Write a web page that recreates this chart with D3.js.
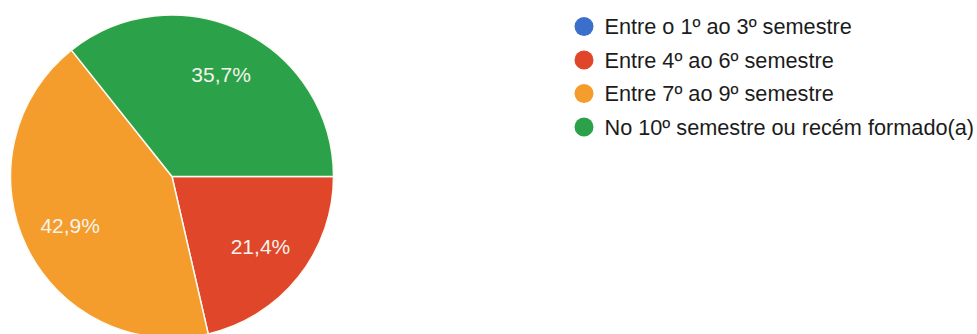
<!DOCTYPE html>
<html>
<head>
<meta charset="utf-8">
<script src="https://cdn.jsdelivr.net/npm/d3@7"></script>
<style>
  html, body { margin: 0; padding: 0; background: #ffffff; }
  svg { display: block; }
  text { font-family: "Liberation Sans", Arial, sans-serif; }
</style>
</head>
<body>
<svg id="chart" width="977" height="334"></svg>
<script>
// Semester groups and their share of responses (%)
const categories = [
  "Entre o 1º ao 3º semestre",
  "Entre 4º ao 6º semestre",
  "Entre 7º ao 9º semestre",
  "No 10º semestre ou recém formado(a)"
];
const values = [0, 21.4, 42.9, 35.7];
const sliceLabels = ["0%", "21,4%", "42,9%", "35,7%"];
const colors = ["#3a6fcc", "#e0462a", "#f49c2c", "#2ba24a"];

const svg = d3.select("#chart");
const cx = 172, cy = 176.5, R = 161.5;

const data = categories.map((c, i) => ({ name: c, value: values[i], label: sliceLabels[i], color: colors[i] }));

// Pie starts at 3 o'clock and runs clockwise
const pie = d3.pie().value(d => d.value).sort(null)
  .startAngle(Math.PI / 2).endAngle(Math.PI / 2 + 2 * Math.PI);
const arcs = pie(data);
const arc = d3.arc().innerRadius(0).outerRadius(R);
const labelArc = d3.arc().innerRadius(R * 0.7).outerRadius(R * 0.7);

const g = svg.append("g").attr("transform", `translate(${cx},${cy})`);

g.selectAll("path.slice")
  .data(arcs.filter(a => a.data.value > 0))
  .join("path")
  .attr("class", "slice")
  .attr("d", arc)
  .attr("fill", d => d.data.color)
  .attr("stroke", "#fbfaf3")
  .attr("stroke-width", 1.5);

g.selectAll("text.pct")
  .data(arcs.filter(a => a.data.value > 0))
  .join("text")
  .attr("class", "pct")
  .attr("transform", d => `translate(${labelArc.centroid(d)})`)
  .attr("text-anchor", "middle")
  .attr("dy", "0.36em")
  .attr("font-size", 21)
  .attr("fill", "#f6f3ea")
  .text(d => d.data.label);

// Legend
const legend = svg.append("g").attr("transform", "translate(584,26.5)");
const rowH = 33.5;
const rows = legend.selectAll("g.row")
  .data(data)
  .join("g")
  .attr("class", "row")
  .attr("transform", (d, i) => `translate(0,${i * rowH})`);

rows.append("circle")
  .attr("r", 9.5)
  .attr("fill", d => d.color);

rows.append("text")
  .attr("x", 20.5)
  .attr("dy", "0.35em")
  .attr("font-size", 21.7)
  .attr("fill", "#1c1c1c")
  .text(d => d.name);
</script>
</body>
</html>
